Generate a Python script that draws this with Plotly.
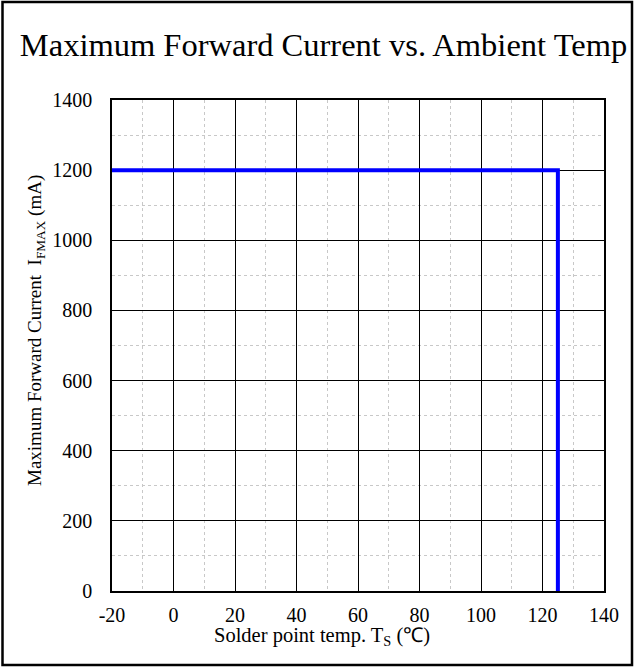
import plotly.graph_objects as go

temp_c = [-20, 125, 125]
current_ma = [1200, 1200, 0]
x_ticks = [-20, 0, 20, 40, 60, 80, 100, 120, 140]
y_ticks = [0, 200, 400, 600, 800, 1000, 1200, 1400]

W, H = 634, 667
L, R, T, B = 112, 30, 100, 76
pw, ph = W - L - R, H - T - B

font = "Liberation Serif, Times New Roman, serif"

fig = go.Figure()
fig.add_trace(go.Scatter(x=temp_c, y=current_ma, mode="lines",
                         line=dict(color="#0000FF", width=4), showlegend=False))

fig.update_layout(
    width=W, height=H,
    margin=dict(l=L, r=R, t=T, b=B),
    paper_bgcolor="white", plot_bgcolor="white",
    font=dict(family=font, size=20, color="black"),
    title=dict(text="Maximum Forward Current vs. Ambient Temp", x=323.5 / W, xanchor="center",
               xref="container", y=1 - 45 / H, yanchor="middle",
               font=dict(family=font, size=32.5, color="black")),
)

fig.update_xaxes(range=[-20, 140], tickvals=x_ticks, ticktext=[str(v) for v in x_ticks],
                 showgrid=True, gridcolor="black", gridwidth=1,
                 minor=dict(dtick=10, tick0=-20, showgrid=True, gridcolor="#c8c8c8", griddash="dot", gridwidth=1),
                 showline=True, linecolor="black", linewidth=1.5, mirror=True,
                 ticks="outside", ticklen=5, tickcolor="rgba(0,0,0,0)",
                 zeroline=False,
                 tickfont=dict(family=font, size=20))
fig.update_yaxes(range=[0, 1400], tickvals=y_ticks, ticktext=[str(v) for v in y_ticks],
                 showgrid=True, gridcolor="black", gridwidth=1,
                 minor=dict(dtick=100, tick0=0, showgrid=True, gridcolor="#c8c8c8", griddash="dot", gridwidth=1),
                 showline=True, linecolor="black", linewidth=1.5, mirror=True,
                 ticks="outside", ticklen=14, tickcolor="rgba(0,0,0,0)",
                 zeroline=False,
                 tickfont=dict(family=font, size=20))

# axis titles as annotations for exact placement
fig.add_annotation(text="Solder point temp. T<sub>S</sub> (℃)", xref="paper", yref="paper",
                   x=(322 - L) / pw, y=-(636 - T - ph) / ph, xanchor="center", yanchor="middle",
                   showarrow=False, font=dict(family=font, size=20.5, color="black"))
fig.add_annotation(text="Maximum Forward Current  I<sub>FMAX</sub> (mA)", xref="paper", yref="paper",
                   x=(36 - L) / pw, y=1 - (331 - T) / ph, xanchor="center", yanchor="middle",
                   textangle=-90, showarrow=False, font=dict(family=font, size=19, color="black"))

# outer frame around whole picture
fig.add_shape(type="rect", xref="paper", yref="paper",
              x0=(2.5 - L) / pw, x1=(W - 2 - L) / pw,
              y0=-(H - 2 - T - ph) / ph, y1=1 + (T - 2) / ph,
              line=dict(color="black", width=2.5), layer="above")

fig.write_html("out.html")
